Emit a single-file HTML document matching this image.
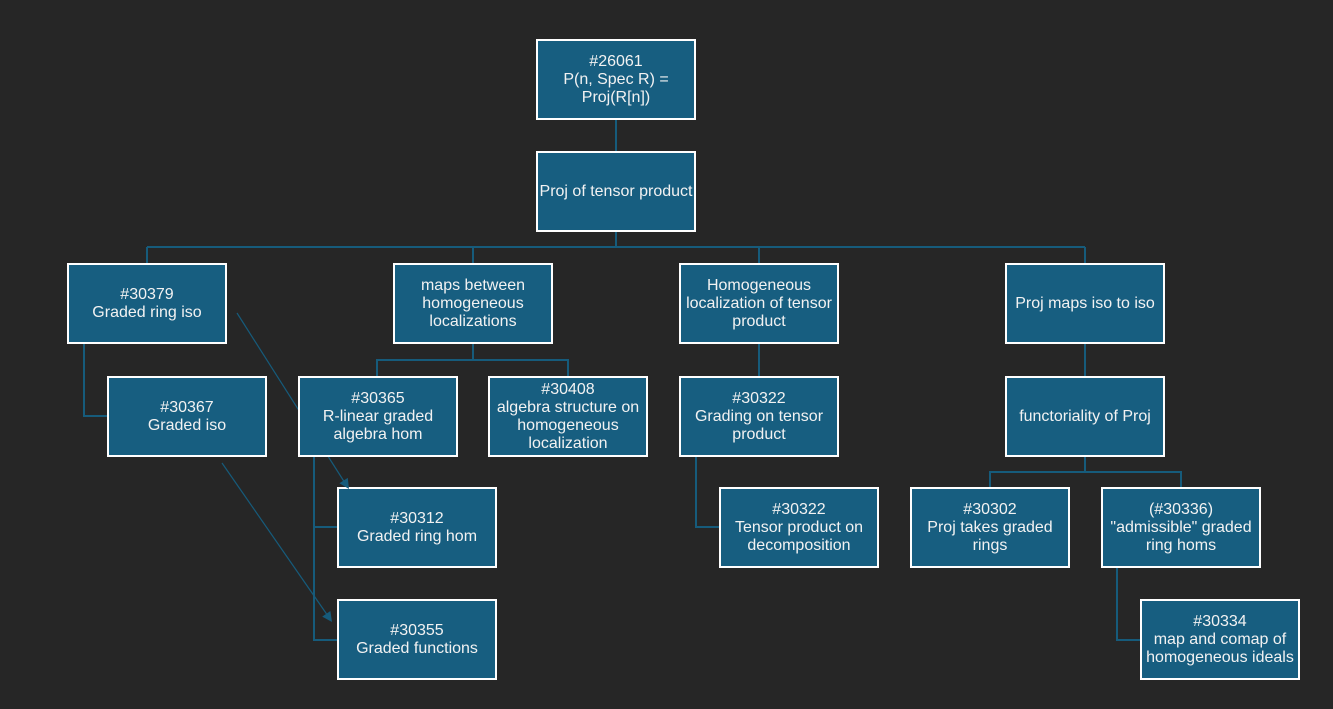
<!DOCTYPE html>
<html>
<head>
<meta charset="utf-8">
<style>
  html, body { margin:0; padding:0; }
  body { width:1333px; height:709px; background:#262626; position:relative; overflow:hidden;
         font-family:"Liberation Sans", Arial, sans-serif; }
  svg { position:absolute; left:0; top:0; }
  .b { position:absolute; width:160px; height:81px; box-sizing:border-box; border:2px solid #ffffff;
       background:#175e80; color:#f2f2f2; display:flex; align-items:center; justify-content:center;
       text-align:center; font-size:16px; line-height:18px; white-space:nowrap; }
</style>
</head>
<body>
<svg width="1333" height="709">
  <g stroke="#165b7b" stroke-width="2" fill="none">
    <line x1="616" y1="120" x2="616" y2="151"/>
    <line x1="616" y1="232" x2="616" y2="247"/>
    <line x1="147" y1="247" x2="1085" y2="247"/>
    <line x1="147" y1="247" x2="147" y2="263"/>
    <line x1="473" y1="247" x2="473" y2="263"/>
    <line x1="759" y1="247" x2="759" y2="263"/>
    <line x1="1085" y1="247" x2="1085" y2="263"/>
    <polyline points="84,343 84,416 107,416"/>
    <polyline points="473,343 473,360"/>
    <polyline points="377,376 377,360 568,360 568,376"/>
    <polyline points="314,456 314,640 337,640"/>
    <line x1="314" y1="527" x2="337" y2="527"/>
    <line x1="759" y1="343" x2="759" y2="376"/>
    <polyline points="696,456 696,527 719,527"/>
    <line x1="1085" y1="343" x2="1085" y2="376"/>
    <line x1="1085" y1="456" x2="1085" y2="472"/>
    <polyline points="990,487 990,472 1181,472 1181,487"/>
    <polyline points="1117,567 1117,640 1140,640"/>
  </g>
  <g stroke="#165b7b" stroke-width="1.2">
    <line x1="237" y1="313" x2="345" y2="483"/>
    <line x1="222" y1="463" x2="328" y2="616"/>
  </g>
</svg>

<div class="b" style="left:536px;top:39px;">#26061<br>P(n, Spec R) =<br>Proj(R[n])</div>
<div class="b" style="left:536px;top:151px;">Proj of tensor product</div>

<div class="b" style="left:67px;top:263px;">#30379<br>Graded ring iso</div>
<div class="b" style="left:393px;top:263px;">maps between<br>homogeneous<br>localizations</div>
<div class="b" style="left:679px;top:263px;">Homogeneous<br>localization of tensor<br>product</div>
<div class="b" style="left:1005px;top:263px;">Proj maps iso to iso</div>

<div class="b" style="left:107px;top:376px;">#30367<br>Graded iso</div>
<div class="b" style="left:298px;top:376px;">#30365<br>R-linear graded<br>algebra hom</div>
<div class="b" style="left:488px;top:376px;">#30408<br>algebra structure on<br>homogeneous<br>localization</div>
<div class="b" style="left:679px;top:376px;">#30322<br>Grading on tensor<br>product</div>
<div class="b" style="left:1005px;top:376px;">functoriality of Proj</div>

<div class="b" style="left:337px;top:487px;">#30312<br>Graded ring hom</div>
<div class="b" style="left:719px;top:487px;">#30322<br>Tensor product on<br>decomposition</div>
<div class="b" style="left:910px;top:487px;">#30302<br>Proj takes graded<br>rings</div>
<div class="b" style="left:1101px;top:487px;">(#30336)<br>"admissible" graded<br>ring homs</div>

<div class="b" style="left:337px;top:599px;">#30355<br>Graded functions</div>
<div class="b" style="left:1140px;top:599px;">#30334<br>map and comap of<br>homogeneous ideals</div>

<svg width="1333" height="709" style="pointer-events:none;">
  <g fill="#165b7b">
    <polygon points="349,489 339.4,483.3 347.8,477.9"/>
    <polygon points="332,622 322.2,616.6 330.4,611"/>
  </g>
</svg>
</body>
</html>
